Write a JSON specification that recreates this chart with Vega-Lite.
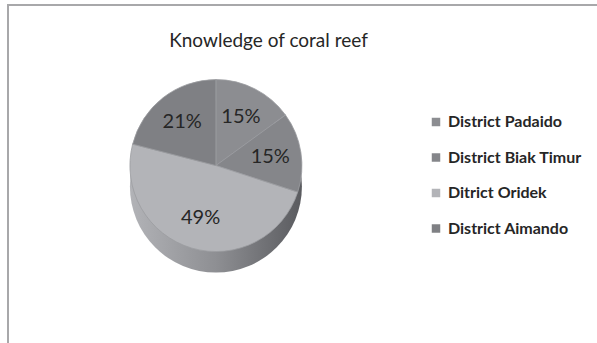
{
  "$schema": "https://vega.github.io/schema/vega-lite/v6.json",
  "autosize": {"type": "none"},
  "width": 589,
  "height": 338,
  "padding": {"left": 8, "top": 5, "right": 0, "bottom": 0},
  "background": "white",
  "view": {
    "stroke": "#a8a8aa",
    "strokeWidth": 2,
    "strokeDash": [589, 927, 338]
  },
  "title": {
    "text": "Knowledge of coral reef",
    "font": "Lato",
    "fontSize": 19,
    "fontWeight": "normal",
    "color": "#262626",
    "anchor": "middle",
    "frame": "group",
    "dx": -34,
    "offset": -46
  },
  "data": {
    "values": [
      {"district": "District Padaido", "share": 0.15, "rank": 1},
      {"district": "District Biak Timur", "share": 0.15, "rank": 2},
      {"district": "Ditrict Oridek", "share": 0.49, "rank": 3},
      {"district": "District Aimando", "share": 0.21, "rank": 4}
    ]
  },
  "layer": [
    {
      "transform": [{"aggregate": [{"op": "sum", "field": "share", "as": "total"}]}],
      "mark": {
        "type": "arc",
        "outerRadius": 86,
        "x": {"expr": "width * 0.353"},
        "y": {"expr": "height * 0.475 + 21"},
        "fill": {
          "gradient": "linear",
          "x1": 0, "y1": 0, "x2": 1, "y2": 0,
          "stops": [
            {"offset": 0, "color": "#b2b3b7"},
            {"offset": 0.5, "color": "#8e8f93"},
            {"offset": 1, "color": "#5a5b5f"}
          ]
        }
      },
      "encoding": {
        "theta": {"field": "total", "type": "quantitative", "scale": {"domain": [0, 1]}}
      }
    },
    {
      "mark": {
        "type": "arc",
        "outerRadius": 86,
        "x": {"expr": "width * 0.353"},
        "y": {"expr": "height * 0.475"},
        "stroke": "#9c9da1",
        "strokeWidth": 0.8
      },
      "encoding": {
        "theta": {"field": "share", "type": "quantitative", "stack": true, "scale": {"domain": [0, 1]}},
        "order": {"field": "rank", "type": "ordinal"},
        "color": {
          "field": "district",
          "type": "nominal",
          "sort": ["District Padaido", "District Biak Timur", "Ditrict Oridek", "District Aimando"],
          "scale": {
            "domain": ["District Padaido", "District Biak Timur", "Ditrict Oridek", "District Aimando"],
            "range": ["#8c8d91", "#85868a", "#b3b4b8", "#7f8084"]
          },
          "legend": {
            "title": null,
            "orient": "none",
            "legendX": 420,
            "legendY": 109,
            "padding": 0,
            "symbolType": "square",
            "symbolSize": 72,
            "symbolStrokeWidth": 0,
            "labelFont": "Lato",
            "labelFontSize": 16,
            "labelFontWeight": "bold",
            "labelColor": "#262626",
            "labelOffset": 4,
            "rowPadding": 19.5
          }
        }
      }
    },
    {
      "mark": {
        "type": "text",
        "radius": 55,
        "x": {"expr": "width * 0.353"},
        "y": {"expr": "height * 0.475"},
        "font": "Lato",
        "fontSize": 20,
        "color": "#262626"
      },
      "encoding": {
        "theta": {"field": "share", "type": "quantitative", "stack": true, "scale": {"domain": [0, 1]}},
        "order": {"field": "rank", "type": "ordinal"},
        "text": {"field": "share", "type": "quantitative", "format": ".0%"}
      }
    }
  ]
}
